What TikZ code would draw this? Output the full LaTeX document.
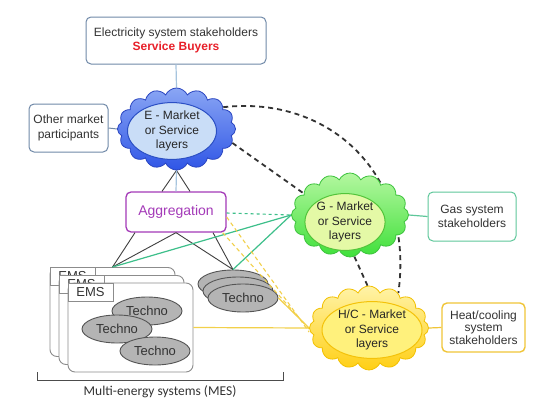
\documentclass[tikz,border=0pt]{standalone}
\usepackage{fontspec}
\setmainfont{Liberation Sans}
\newfontfamily\calibfont{Carlito}
\usetikzlibrary{shapes.symbols,shapes.geometric}
\definecolor{txt}{HTML}{333333}
\definecolor{bluegray}{HTML}{7089A8}
\definecolor{Etop}{HTML}{8AA6F4}
\definecolor{Ebot}{HTML}{2F55E6}
\definecolor{Edraw}{HTML}{2A45C0}
\definecolor{Einfill}{HTML}{C9DDF7}
\definecolor{Eindraw}{HTML}{2B4FC4}
\definecolor{aggc}{HTML}{A43AB8}
\definecolor{Gtop}{HTML}{B4F7A0}
\definecolor{Gbot}{HTML}{3FE03A}
\definecolor{Gdraw}{HTML}{3CC23C}
\definecolor{Ginfill}{HTML}{E4F9A6}
\definecolor{Gindraw}{HTML}{52C43A}
\definecolor{gasc}{HTML}{5EC79A}
\definecolor{Htop}{HTML}{FFF3A8}
\definecolor{Hbot}{HTML}{FFCF14}
\definecolor{Hdraw}{HTML}{F2C000}
\definecolor{Hinfill}{HTML}{FFF17C}
\definecolor{Hindraw}{HTML}{F4C20A}
\definecolor{heatc}{HTML}{F0C538}
\definecolor{technofill}{HTML}{B4B4B4}
\definecolor{technodraw}{HTML}{555555}
\definecolor{cardc}{HTML}{8C8C8C}
\definecolor{greenl}{HTML}{3DBF8A}
\definecolor{yellowl}{HTML}{F2D04A}
\definecolor{lblue}{HTML}{A6C4DE}
\definecolor{buyred}{HTML}{E8202A}
\begin{document}
\begin{tikzpicture}[x=1pt,y=-1pt,
  font=\fontsize{12}{14.5}\selectfont,
  sbox/.style={draw=#1, rounded corners=5, line width=1pt, fill=white, align=center, text=txt, inner sep=2pt},
  mcloud/.style={cloud, cloud puffs=16, cloud puff arc=130, line width=0.8pt},
  inell/.style={ellipse, line width=1pt, align=center, text=black!85, inner sep=0pt},
  techno/.style={ellipse, fill=technofill, draw=technodraw, line width=0.9pt, minimum width=70, minimum height=28, inner sep=0pt, font=\fontsize{13}{15}\selectfont, text=txt},
  card/.style={draw=cardc, fill=white, rounded corners=7, line width=0.9pt, minimum width=125, minimum height=89},
  emstab/.style={draw=cardc, fill=white, line width=0.8pt, minimum width=45, minimum height=18, inner sep=0pt, anchor=north west, font=\fontsize{13}{15}\selectfont, text=txt},
  blk/.style={draw=black!75, line width=0.9pt},
  dsh/.style={draw=black!80, line width=1.8pt, dash pattern=on 5pt off 4pt},
  grn/.style={draw=greenl, line width=1.2pt},
  yel/.style={draw=yellowl, line width=1.2pt}
]
\useasboundingbox (0,0) rectangle (543,415);
\fill[white] (0,0) rectangle (543,415);

% boxes
\node[sbox=bluegray, minimum width=180, minimum height=47] (buyers) at (176,40.5)
  {Electricity system stakeholders\\[-1pt]{\color{buyred}\bfseries Service Buyers}};
\node[sbox=bluegray, minimum width=79, minimum height=48] (other) at (68.5,128)
  {Other market\\participants};
\node[sbox=gasc, minimum width=88, minimum height=49] (gas) at (472,216.5)
  {Gas system\\stakeholders};
\node[sbox=heatc, minimum width=83, minimum height=49, line width=1.4pt] (heat) at (483.5,327.5)
  {Heat/cooling\\[-2pt]system\\[-2pt]stakeholders};
\node[sbox=aggc, minimum width=100, minimum height=40, line width=1.3pt, text=aggc, font=\fontsize{14}{16}\selectfont] (agg) at (176,212) {Aggregation};

% cloud placeholders (coordinates for connectors)
\node[mcloud, minimum width=118, minimum height=82] (Ecloud) at (176.5,129) {};
\node[mcloud, minimum width=117, minimum height=84] (Gcloud) at (350,215) {};
\node[mcloud, minimum width=119, minimum height=84] (Hcloud) at (369,328) {};

% EMS cards
\node[card] (ems1) at (112.5,312) {};
\node[emstab] (tab1) at (ems1.north west) {EMS};
\node[card] (ems2) at (121.5,320) {};
\node[emstab] (tab2) at (ems2.north west) {EMS};
\node[card] (ems3) at (130.5,327.5) {};
\node[emstab] (tab3) at (ems3.north west) {EMS};
\node[techno] (te1) at (147,311) {Techno};
\node[techno] (te2) at (117,329) {Techno};
\node[techno] (te3) at (155,351) {Techno};

% techno stack
\node[techno] (t1) at (233,284) {};
\node[techno] (t2) at (238,291) {};
\node[techno] (t3) at (243,298) {Techno};

% connectors
\draw[draw=lblue, line width=1.2pt] (buyers.south) -- (Ecloud.north);
\draw[draw=bluegray, line width=1pt] (other.east) -- (Ecloud.west);
\draw[draw=gasc, line width=1.2pt] (Gcloud.east) -- (gas.west);
\draw[draw=heatc, line width=1.2pt] (Hcloud.east) -- (heat.west);

\draw[blk] (Ecloud.south) -- ([xshift=-14]agg.north);
\draw[blk] (Ecloud.south) -- ([xshift=14]agg.north);
\draw[draw=lblue, line width=1.2pt] (Ecloud.south) -- (agg.north);

\draw[blk] ([xshift=-41]agg.south) -- (ems1.north);
\draw[blk] (agg.south) -- (ems1.north);
\draw[blk] (agg.south) -- (t1.north);
\draw[blk] ([xshift=37]agg.south) -- (t1.north);

\draw[grn] (Gcloud.west) -- (ems1.north);
\draw[grn] (Gcloud.west) -- (t1.north);
\draw[grn, dashed, line width=1.1pt] ([yshift=-1]agg.east) -- (Gcloud.west);

\draw[yel, dash pattern=on 4pt off 3pt, line width=1.1pt] ([yshift=-5]agg.east) -- ([yshift=-4]Hcloud.west);
\draw[yel, dash pattern=on 4pt off 3pt, line width=1.1pt] ([xshift=-4]agg.south east) -- ([yshift=-1]Hcloud.west);
\draw[yel] (t3.east) -- (Hcloud.west);
\draw[yel] (ems3.east) -- (Hcloud.west);

\draw[dsh] (Ecloud.25) .. controls (330,95) and (415,175) .. (Hcloud.50);
\draw[dsh] (Ecloud.-14) -- (Gcloud.155);
\draw[dsh] (Gcloud.-84) -- (Hcloud.92);

% clouds drawn on top
\node[mcloud, minimum width=118, minimum height=82, draw=Edraw, top color=Etop, bottom color=Ebot] at (Ecloud) {};
\node[inell, minimum width=89, minimum height=48, fill=Einfill, draw=Eindraw] (Ein) at (172,131) {E - Market\\or Service\\layers};
\node[mcloud, minimum width=117, minimum height=84, draw=Gdraw, top color=Gtop, bottom color=Gbot] at (Gcloud) {};
\node[inell, minimum width=78, minimum height=50, fill=Ginfill, draw=Gindraw] (Gin) at (345,222) {G - Market\\or Service\\layers};
\node[mcloud, minimum width=119, minimum height=84, draw=Hdraw, top color=Htop, bottom color=Hbot] at (Hcloud) {};
\node[inell, minimum width=100, minimum height=55, fill=Hinfill, draw=Hindraw] (Hin) at (372,330) {H/C - Market\\or Service\\layers};

% bracket
\coordinate (bl) at (37,372);
\coordinate (br) at (283,372);
\draw[draw=black!70, line width=1pt] (bl) -- ++(0,8) -| (br);
\node[font=\calibfont\fontsize{13.5}{15}\selectfont, text=txt] (mes) at (160,392) {Multi-energy systems (MES)};
\end{tikzpicture}
\end{document}
